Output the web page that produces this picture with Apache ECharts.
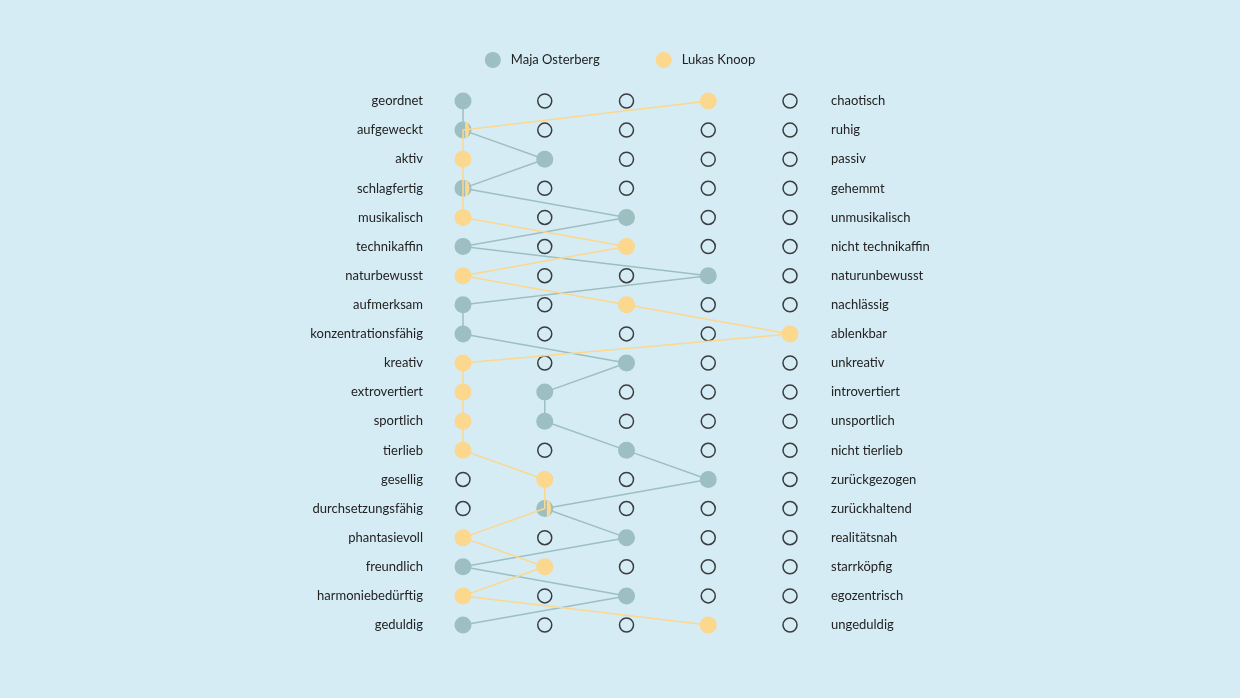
<!DOCTYPE html>
<html><head><meta charset="utf-8">
<script src="https://cdn.jsdelivr.net/npm/echarts@6/dist/echarts.min.js"></script>
<style>html,body{margin:0;padding:0;background:#d6ecf4;}#c{width:1240px;height:698px;}</style>
</head><body><div id="c"></div>
<script>
const leftLabels = ['geordnet','aufgeweckt','aktiv','schlagfertig','musikalisch','technikaffin','naturbewusst','aufmerksam','konzentrationsfähig','kreativ','extrovertiert','sportlich','tierlieb','gesellig','durchsetzungsfähig','phantasievoll','freundlich','harmoniebedürftig','geduldig'];
const rightLabels = ['chaotisch','ruhig','passiv','gehemmt','unmusikalisch','nicht technikaffin','naturunbewusst','nachlässig','ablenkbar','unkreativ','introvertiert','unsportlich','nicht tierlieb','zurückgezogen','zurückhaltend','realitätsnah','starrköpfig','egozentrisch','ungeduldig'];
const scaleSteps = [1,2,3,4,5];
const majaValues = [1,1,2,1,3,1,4,1,1,3,2,2,3,4,2,3,1,3,1];
const lukasValues = [4,1,1,1,1,3,1,3,5,1,1,1,1,2,2,1,2,1,4];
const seriesNames = ['Maja Osterberg','Lukas Knoop'];

const GREY = '#9dbfc2', YELLOW = '#fcd78e';
const font = 'Lato, "Noto Sans", sans-serif';

const emptyCells = [];
leftLabels.forEach((_, i) => scaleSteps.forEach(s => emptyCells.push([s, i])));

const majaData = majaValues.map((v, i) => [v, i]);
const halfPath = 'path://M0,0 A8,8 0 0 1 0,16 Z';
const lukasData = lukasValues.map((v, i) => {
  if (v === majaValues[i]) {
    return { value: [v, i], symbol: halfPath, symbolSize: [8.5, 17], symbolOffset: [4.25, 0], symbolKeepAspect: true };
  }
  return { value: [v, i] };
});

const yBase = {
  type: 'category', inverse: true, boundaryGap: false,
  axisLine: { show: false }, axisTick: { show: false }, splitLine: { show: false },
};

const chart = echarts.init(document.getElementById('c'));
chart.setOption({
  backgroundColor: '#d6ecf4',
  animation: false,
  legend: {
    top: 47, left: 'center', itemWidth: 16, itemHeight: 16, itemGap: 56,
    icon: 'circle',
    textStyle: { fontFamily: font, fontSize: 13, color: '#222', padding: [0, 0, 0, 5] },
    data: seriesNames
  },
  grid: { left: 463, right: 450, top: 101, bottom: 73, containLabel: false },
  xAxis: { type: 'value', min: 1, max: 5, interval: 1, show: false },
  yAxis: [
    Object.assign({}, yBase, { position: 'left', data: leftLabels,
      axisLabel: { margin: 40, fontFamily: font, fontSize: 13, color: '#222' } }),
    Object.assign({}, yBase, { position: 'right', data: rightLabels,
      axisLabel: { margin: 41, fontFamily: font, fontSize: 13, color: '#222' } })
  ],
  series: [
    { type: 'scatter', silent: true, z: 1, data: emptyCells, symbol: 'circle', symbolSize: 14,
      itemStyle: { color: 'rgba(0,0,0,0)', borderColor: '#111', borderWidth: 1.5 } },
    { name: seriesNames[0], type: 'line', z: 2, data: majaData, symbol: 'circle', symbolSize: 17,
      lineStyle: { color: GREY, width: 1.5 }, itemStyle: { color: GREY }, emphasis: { disabled: true } },
    { name: seriesNames[1], type: 'line', z: 3, data: lukasData, symbol: 'circle', symbolSize: 17,
      lineStyle: { color: YELLOW, width: 1.5 }, itemStyle: { color: YELLOW }, emphasis: { disabled: true } }
  ]
});
</script></body></html>
